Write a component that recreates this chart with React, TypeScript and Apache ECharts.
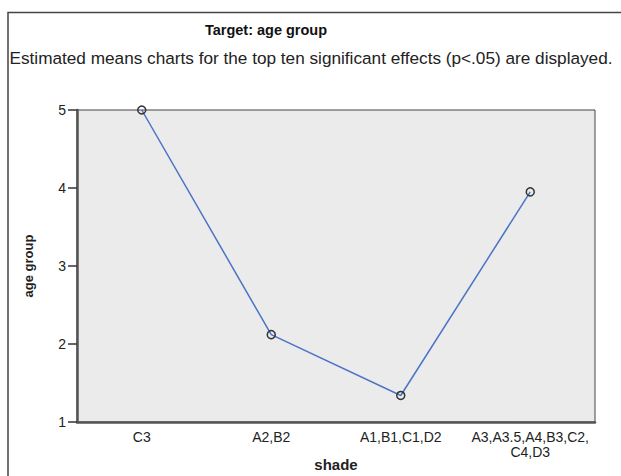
import React, { useEffect, useRef } from "react";
import * as echarts from "echarts";

const categories = ["C3", "A2,B2", "A1,B1,C1,D2", "A3,A3.5,A4,B3,C2,\nC4,D3"];
const ageGroupMeans = [5.0, 2.12, 1.34, 3.95];
const yTicks = { min: 1, max: 5, interval: 1 };
const titleText = "Target: age group";
const subtitleText = "Estimated means charts for the top ten significant effects (p<.05) are displayed.";
const xName = "shade";
const yName = "age group";

export default function App() {
  const ref = useRef<HTMLDivElement>(null);
  useEffect(() => {
    if (!ref.current) return;
    const chart = echarts.init(ref.current, null, { renderer: "svg" });
    const font = "Arial, 'Liberation Sans', sans-serif";
    chart.setOption({
      animation: false,
      backgroundColor: "#ffffff",
      textStyle: { fontFamily: font },
      graphic: [
        {
          type: "rect",
          shape: { x: 8, y: 12.5, width: 700, height: 600 },
          style: { fill: "none", stroke: "#444", lineWidth: 1.5 },
          silent: true,
        },
        {
          type: "text",
          x: 266,
          y: 30,
          style: {
            text: titleText,
            font: `bold 14.5px ${font}`,
            fill: "#111",
            textAlign: "center",
            textVerticalAlign: "middle",
          },
        },
        {
          type: "text",
          x: 311,
          y: 58,
          style: {
            text: subtitleText,
            font: `17.2px ${font}`,
            fill: "#222",
            textAlign: "center",
            textVerticalAlign: "middle",
          },
        },
      ],
      grid: {
        left: 77,
        right: 26,
        top: 110,
        bottom: 54,
        show: true,
        outerBoundsMode: "none",
        containLabel: false,
        backgroundColor: "#ebebeb",
        borderColor: "#444",
        borderWidth: 1,
      },
      xAxis: {
        type: "category",
        data: categories,
        boundaryGap: true,
        name: xName,
        nameLocation: "middle",
        nameGap: 35,
        nameMoveOverlap: false,
        nameTextStyle: { fontWeight: "bold", fontSize: 15, color: "#222", fontFamily: font },
        axisLine: { lineStyle: { color: "#555", width: 2.5 } },
        axisTick: { alignWithLabel: true, length: 7, lineStyle: { color: "#333", width: 1.5 } },
        axisLabel: { interval: 0, hideOverlap: false, color: "#222", fontSize: 14, margin: 7, lineHeight: 15, fontFamily: font },
        splitLine: { show: false },
      },
      yAxis: {
        type: "value",
        min: yTicks.min,
        max: yTicks.max,
        interval: yTicks.interval,
        name: yName,
        nameLocation: "middle",
        nameGap: 42,
        nameMoveOverlap: false,
        nameTextStyle: { fontWeight: "bold", fontSize: 13, color: "#222", fontFamily: font },
        axisLine: { show: true, lineStyle: { color: "#555", width: 2.5 } },
        axisTick: { show: true, length: 9, lineStyle: { color: "#333", width: 1.5 } },
        axisLabel: { color: "#222", fontSize: 14, margin: 11, fontFamily: font },
        splitLine: { show: false },
      },
      series: [
        {
          type: "line",
          data: ageGroupMeans,
          clip: false,
          symbol: "circle",
          symbolSize: 8,
          lineStyle: { color: "#4a74c6", width: 1.5 },
          itemStyle: { color: "rgba(0,0,0,0)", borderColor: "#333", borderWidth: 1.5 },
        },
      ],
    });
    return () => chart.dispose();
  }, []);
  return (
    <div
      ref={ref}
      style={{ position: "fixed", left: 0, top: 0, width: 621, height: 476 }}
    />
  );
}
